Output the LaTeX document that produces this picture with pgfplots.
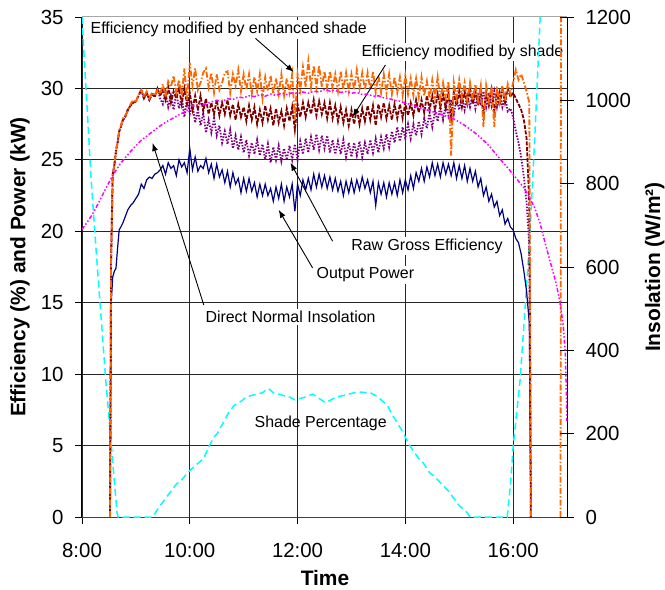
\documentclass[border=0pt]{standalone}
\usepackage{fontspec}
\setmainfont{Liberation Sans}
\usepackage{pgfplots}
\usepackage{pgfplotstable}
\pgfplotsset{compat=1.18}
\usetikzlibrary{arrows.meta}

\definecolor{cpower}{HTML}{000080}
\definecolor{craw}{HTML}{800080}
\definecolor{cshade}{HTML}{800000}
\definecolor{cenh}{HTML}{FF6600}
\definecolor{cdni}{HTML}{FF00FF}
\definecolor{cpct}{HTML}{00FFFF}

\newcommand{\annot}{\fontsize{16}{19}\selectfont}
\newcommand{\tickf}{\fontsize{20.5}{24}\selectfont}
\newcommand{\labf}{\fontsize{21}{25}\selectfont\bfseries}

% t = hours; P = output power (kW); raw/shd/enh = efficiencies (%)
\pgfplotstableread{
t P raw shd enh
8.52 0 0 0 0
8.54 14.8 18.0 18.0 18.0
8.57 16.8 24.0 24.0 24.0
8.60 17.2 24.6 24.6 24.6
8.63 17.4 25.6 25.6 25.6
8.66 18.8 26.2 26.2 26.2
8.69 20.1 27.0 27.0 27.0
8.72 20.3 27.3 27.3 27.4
8.76 20.6 27.8 27.8 27.9
8.80 21.0 28.0 28.0 28.1
8.85 21.5 28.5 28.5 28.4
8.90 21.8 28.8 28.8 28.9
8.95 22.0 29.0 29.0 29.2
9.00 22.3 29.1 29.1 29.0
9.05 22.6 29.5 29.5 29.6
9.10 23.3 29.9 29.9 29.9
9.15 23.0 29.3 29.3 29.4
9.20 23.6 29.7 29.7 29.8
9.25 23.8 29.2 29.2 29.3
9.30 23.7 29.6 29.6 29.7
9.35 24.0 29.4 29.4 29.5
9.40 24.1 30.0 30.0 29.9
9.45 24.3 29.3 29.5 29.6
9.50 24.6 28.9 29.9 30.3
9.55 24.0 29.7 29.2 29.4
9.60 24.8 28.7 30.1 30.5
9.65 24.4 29.5 29.0 30.1
9.70 24.6 28.5 29.8 30.9
9.75 23.9 29.7 29.3 29.7
9.80 25.0 28.6 30.0 30.6
9.85 24.5 29.4 28.9 29.5
9.90 24.8 28.0 30.0 31.4
9.95 24.1 29.3 28.9 29.2
10.00 25.8 28.2 29.7 31.8
10.05 24.3 28.9 28.5 30.2
10.10 25.2 27.6 29.5 31.4
10.15 24.2 28.5 28.5 29.9
10.20 24.6 27.4 29.5 30.4
10.25 24.4 28.3 28.4 31.1
10.30 25.1 26.9 29.3 31.4
10.35 24.1 27.8 28.2 30.1
10.40 24.7 26.9 29.0 31.1
10.45 23.7 27.9 28.2 29.7
10.50 24.7 26.7 29.2 31.0
10.55 23.8 27.4 28.1 29.9
10.60 24.3 26.2 29.0 30.4
10.65 23.4 27.0 28.2 31.1
10.70 24.2 26.1 29.2 31.2
10.75 23.1 27.1 28.1 29.7
10.80 24.1 25.8 28.9 31.0
10.85 23.3 26.7 27.8 30.2
10.90 23.7 25.7 28.9 31.3
10.95 22.7 26.6 28.0 29.8
11.00 23.7 25.5 28.7 31.0
11.05 22.8 26.4 27.7 29.9
11.10 23.7 25.3 28.8 31.0
11.15 22.8 26.2 27.8 29.6
11.20 23.4 25.4 28.7 30.8
11.25 22.4 26.4 27.5 29.8
11.30 23.3 25.3 28.5 31.0
11.35 22.5 26.1 27.6 29.3
11.40 23.3 25.0 28.8 30.8
11.45 22.5 26.1 27.8 29.8
11.50 23.0 24.8 28.6 30.9
11.55 22.1 25.9 27.4 29.6
11.60 23.1 25.0 28.6 30.7
11.65 22.3 26.0 27.6 29.6
11.70 23.3 24.9 28.4 31.0
11.75 22.1 25.8 27.4 29.5
11.80 23.1 25.0 28.6 30.7
11.85 22.4 26.0 27.7 29.7
11.90 23.3 25.0 28.7 31.0
11.95 21.4 26.1 27.1 27.8
12.00 23.3 25.0 28.9 31.0
12.05 22.5 26.3 28.0 29.9
12.10 23.6 25.4 29.0 31.5
12.15 22.9 26.5 28.0 30.1
12.20 23.7 25.5 29.0 31.9
12.25 22.9 26.6 28.2 30.1
12.30 24.0 25.7 29.2 31.6
12.35 23.1 26.8 28.1 30.1
12.40 24.0 25.7 29.1 31.6
12.45 23.1 26.7 28.2 30.1
12.50 23.9 25.8 29.0 31.2
12.55 23.0 26.7 27.9 30.0
12.60 23.8 25.5 29.0 31.2
12.65 22.9 26.4 27.9 30.0
12.70 23.7 25.4 28.8 31.0
12.75 22.8 26.3 27.7 29.8
12.80 23.5 25.4 28.7 31.2
12.85 22.5 26.4 27.6 29.9
12.90 23.5 25.2 28.5 31.1
12.95 22.7 26.2 27.4 29.8
13.00 23.6 25.2 28.5 31.0
13.05 22.7 26.2 27.5 29.9
13.10 23.6 25.3 28.6 31.3
13.15 22.9 26.3 27.5 30.0
13.20 23.8 25.2 28.6 31.1
13.25 23.0 26.2 27.7 29.9
13.30 23.6 25.4 28.8 31.1
13.35 22.7 26.4 27.8 29.9
13.40 23.5 25.5 28.8 31.2
13.45 21.8 26.5 27.4 29.7
13.50 23.4 25.5 28.9 30.9
13.55 22.6 26.6 28.0 29.7
13.60 23.4 25.8 29.0 31.0
13.65 22.4 26.8 27.9 29.7
13.70 23.4 25.9 28.8 31.0
13.75 22.6 27.0 27.8 29.6
13.80 23.4 26.2 28.9 30.8
13.85 22.5 27.3 27.9 29.7
13.90 23.6 26.3 28.9 30.8
13.95 22.7 27.3 27.9 29.5
14.00 23.6 26.5 29.0 30.9
14.05 22.9 27.5 28.1 29.6
14.10 23.9 26.5 29.0 30.7
14.15 23.0 27.5 28.1 29.5
14.20 24.1 26.7 29.2 30.7
14.25 23.5 27.7 28.3 29.4
14.30 24.4 26.8 29.2 30.8
14.35 23.5 27.9 28.3 29.5
14.40 24.5 27.2 29.5 30.5
14.45 23.8 28.3 28.5 29.3
14.50 24.8 27.3 29.5 30.6
14.55 23.9 28.4 28.5 29.4
14.60 24.7 27.7 29.6 30.8
14.65 23.8 28.8 28.7 29.2
14.70 24.8 27.8 29.6 30.4
14.75 24.0 28.9 28.6 29.3
14.80 24.7 28.1 29.7 30.5
14.85 23.9 29.2 27.9 25.3
14.90 24.8 28.2 29.7 30.4
14.95 23.7 29.3 28.8 29.3
15.00 24.6 28.5 29.8 30.6
15.05 23.7 29.5 28.7 29.3
15.10 24.6 28.5 29.8 30.4
15.15 23.5 29.5 28.9 29.1
15.20 24.4 28.7 29.9 30.4
15.25 23.5 29.7 28.9 29.2
15.30 24.2 28.6 29.8 30.3
15.35 23.1 29.7 28.8 29.1
15.40 23.7 28.8 29.8 30.2
15.45 22.5 29.8 28.1 27.3
15.50 23.1 28.7 29.7 30.2
15.55 22.1 29.7 28.8 29.1
15.60 22.6 28.8 29.9 30.1
15.65 21.7 29.8 28.4 27.3
15.70 22.1 28.7 29.8 30.1
15.75 21.1 29.7 28.8 29.0
15.80 21.5 28.7 30.0 30.2
15.85 20.5 29.5 29.0 29.1
15.90 20.9 28.4 30.0 30.3
15.95 20.3 28.6 29.4 29.6
16.00 20.1 28.0 29.7 30.4
16.05 19.5 27.0 29.3 31.3
16.10 19.2 26.2 28.9 30.6
16.15 18.4 25.2 28.5 31.0
16.20 17.2 23.8 27.8 30.4
16.25 15.8 22.0 26.5 29.8
16.30 13.6 19.0 22.0 29.0
16.33 0 0 0 0
16.60 nan nan nan nan
16.88 nan nan nan 0
16.89 nan nan nan 45
}\effdata

% Shade percentage (%)
\pgfplotstableread{
t S
8.00 35
8.05 31.5
8.10 28.3
8.17 23.6
8.25 19.3
8.33 15.2
8.44 9.6
8.50 7.0
8.58 3.4
8.65 0.3
8.67 0
9.31 0
9.45 0.8
9.55 1.3
9.65 1.8
9.75 2.3
9.85 2.6
9.96 3.1
10.10 3.6
10.26 4.1
10.35 4.9
10.45 5.6
10.52 5.9
10.62 6.6
10.72 7.3
10.82 7.8
10.95 8.1
11.05 8.4
11.13 8.5
11.25 8.6
11.35 8.7
11.46 9.0
11.55 8.7
11.65 8.6
11.74 8.5
11.85 8.4
11.95 8.2
12.05 8.3
12.15 8.4
12.28 8.6
12.40 8.3
12.52 8.0
12.62 8.2
12.72 8.4
12.85 8.5
12.95 8.6
13.05 8.7
13.17 8.75
13.27 8.7
13.35 8.7
13.45 8.5
13.55 8.2
13.67 7.8
13.75 7.2
13.85 6.6
13.96 5.9
14.05 5.2
14.15 4.6
14.25 4.1
14.33 3.8
14.45 3.1
14.55 2.8
14.65 2.4
14.78 1.9
14.90 1.3
15.00 0.8
15.15 0.3
15.20 0
15.89 0
15.95 2.2
16.00 4.9
16.13 9.6
16.22 14.5
16.31 19.6
16.40 26.4
16.50 34.8
16.53 37
}\pctdata

% Direct normal insolation (W/m2)
\pgfplotstableread{
t I
8.00 690
8.10 708
8.20 728
8.30 752
8.40 778
8.50 803
8.60 826
8.70 846
8.80 862
8.90 877
9.00 891
9.10 904
9.20 914
9.28 922
9.40 934
9.50 943
9.60 951
9.70 958
9.80 965
9.90 972
9.96 977
10.00 988
10.10 986
10.20 992
10.30 990
10.39 996
10.50 1000
10.60 997
10.70 1004
10.80 1002
10.90 1008
11.00 1006
11.10 1011
11.20 1009
11.30 1013
11.40 1010
11.50 1015
11.60 1012
11.70 1017
11.80 1014
11.90 1018
12.00 1016
12.10 1020
12.20 1017
12.30 1022
12.40 1020
12.50 1026
12.60 1022
12.70 1024
12.80 1019
12.90 1021
13.00 1017
13.10 1019
13.20 1014
13.30 1015
13.40 1010
13.50 1011
13.60 1006
13.70 1004
13.80 1000
13.90 998
14.00 993
14.10 990
14.20 985
14.30 981
14.40 977
14.50 973
14.60 969
14.70 965
14.80 960
14.90 955
15.00 948
15.10 940
15.20 931
15.30 921
15.40 910
15.50 898
15.60 884
15.70 868
15.80 853
15.90 838
16.00 822
16.10 806
16.20 790
16.30 768
16.40 742
16.50 705
16.60 655
16.70 607
16.80 560
16.87 514
16.93 460
16.97 390
17.00 230
}\dnidata

\begin{document}
\begin{tikzpicture}
\begin{axis}[
    scale only axis,
    width=485bp, height=500bp,
    xmin=8, xmax=17, ymin=0, ymax=35,
    axis x line*=bottom, axis y line*=left,
    x axis line style={-, black!75, line width=1bp},
    y axis line style={-, black, line width=1bp},
    xtick={8,10,12,14,16},
    xticklabels={8:00,10:00,12:00,14:00,16:00},
    ytick={0,5,...,30},
    extra y ticks={35},
    extra y tick style={grid style={gray!70, line width=1bp}},
    grid=major,
    grid style={black!85, line width=0.8bp},
    tick align=outside,
    major tick length=7bp,
    tick style={black, line width=0.8bp},
    ticklabel style={font=\tickf},
    xticklabel style={yshift=-16bp},
    yticklabel style={xshift=-8bp},
    /pgf/number format/assume math mode=true,
    xlabel={Time},
    ylabel={Efficiency (\%) and Power (kW)},
    every axis x label/.style={at={(axis description cs:0.501,-0.122)}, anchor=center, font=\labf},
    every axis y label/.style={at={(axis description cs:-0.128,0.5)}, rotate=90, anchor=center, font=\labf},
    unbounded coords=jump,
    clip mode=individual,
]
\node[fill=white, inner sep=2bp, anchor=west, font=\annot] at (axis cs:8.12,34.1) {Efficiency modified by enhanced shade};
\node[fill=white, inner sep=2bp, font=\annot] at (axis cs:15.06,32.55) {Efficiency modified by shade};
\node[fill=white, inner sep=1.5bp, font=\annot] at (axis cs:14.40,18.97) {Raw Gross Efficiency};
\node[fill=white, inner sep=1.5bp, font=\annot] at (axis cs:13.26,16.94) {Output Power};
\node[fill=white, inner sep=2bp, font=\annot] at (axis cs:11.87,14.0) {Direct Normal Insolation};
\node[font=\annot] at (axis cs:12.43,6.58) {Shade Percentage};

\addplot[cpct, line width=1.5bp, dash pattern=on 7bp off 4bp] table[x=t, y=S] {\pctdata};
\addplot[cpower, line width=1.2bp] table[x=t, y=P] {\effdata};
\addplot[craw, line width=1.8bp, dash pattern=on 1.5bp off 1.5bp] table[x=t, y=raw] {\effdata};
\addplot[cshade, line width=1.8bp, dash pattern=on 4bp off 1.5bp] table[x=t, y=shd] {\effdata};
\addplot[cenh, line width=1.8bp, dash pattern=on 6bp off 2bp on 1.5bp off 2bp] table[x=t, y=enh] {\effdata};

\draw[-{Latex[length=8bp,width=6bp]}, line width=0.9bp] (axis cs:11.22,33.5) -- (axis cs:11.93,31.15);
\draw[-{Latex[length=8bp,width=6bp]}, line width=0.9bp] (axis cs:13.63,31.64) -- (axis cs:13.02,28.0);
\draw[-{Latex[length=8bp,width=6bp]}, line width=0.9bp] (axis cs:12.65,19.3) -- (axis cs:11.87,24.8);
\draw[-{Latex[length=8bp,width=6bp]}, line width=0.9bp] (axis cs:12.28,17.43) -- (axis cs:11.65,21.5);
\draw[-{Latex[length=8bp,width=6bp]}, line width=0.9bp] (axis cs:10.26,14.84) -- (axis cs:9.31,26.18);
\end{axis}

\begin{axis}[
    scale only axis,
    width=485bp, height=500bp,
    xmin=8, xmax=17, ymin=0, ymax=1200,
    axis x line=none, axis y line*=right,
    y axis line style={-, black, line width=1bp},
    ytick={0,200,...,1200},
    tick align=center,
    major tick length=14bp,
    tick style={black, line width=0.8bp},
    ticklabel style={font=\tickf},
    yticklabel style={xshift=8bp},
    /pgf/number format/assume math mode=true,
    /pgf/number format/1000 sep={},
    ylabel={Insolation (W/m²)},
    every axis y label/.style={at={(axis description cs:1.181,0.5)}, rotate=90, anchor=center, font=\labf},
]
\addplot[cdni, line width=1.5bp, dash pattern=on 4bp off 2bp on 1.5bp off 2bp on 1.5bp off 2bp] table[x=t, y=I] {\dnidata};
\end{axis}

\pgfresetboundingbox
\path[use as bounding box] (-82bp,-73bp) rectangle (583bp,517bp);
\end{tikzpicture}
\end{document}
